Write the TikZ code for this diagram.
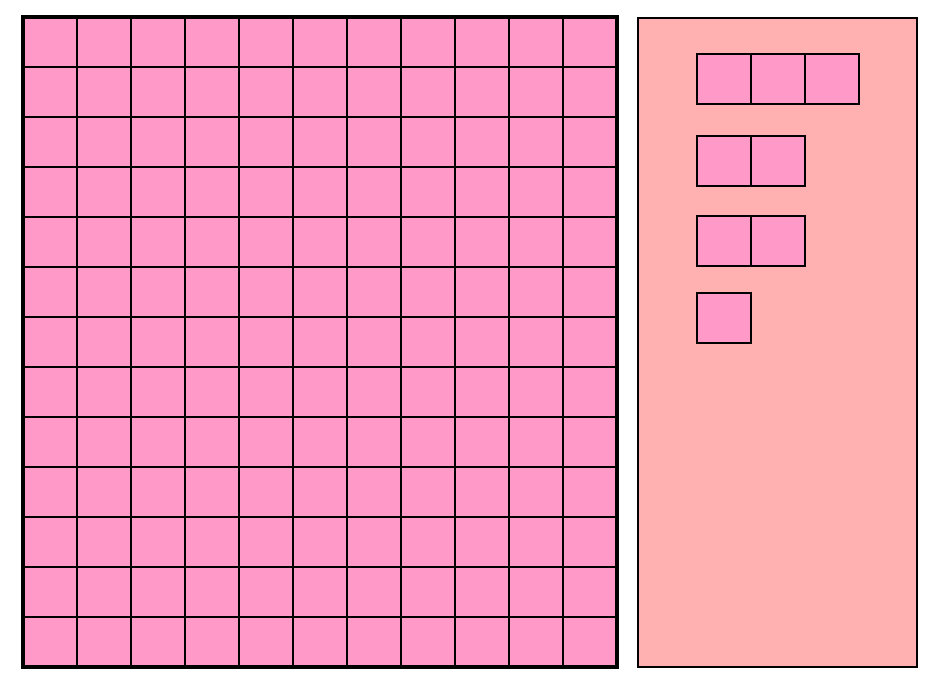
\documentclass[tikz,border=0pt]{standalone}
\usepackage{xcolor}
\usepackage{tikz}
\definecolor{tilepink}{RGB}{255,153,200}
\definecolor{trayred}{RGB}{255,176,176}

\begin{document}
\begin{tikzpicture}[x=1pt,y=-1pt,
    cell/.style={rectangle,draw=black,line width=2.9pt,fill=tilepink,minimum width=54pt,minimum height=50pt,inner sep=0pt,outer sep=0pt},
    tile/.style={rectangle,draw=black,line width=2.9pt,fill=tilepink,minimum width=54pt,minimum height=50pt,inner sep=0pt,outer sep=0pt},
    tray/.style={draw=black,line width=2.4pt,fill=trayred}
  ]
    \useasboundingbox (0,0) rectangle (941,685);
    % hundred grid
    \foreach \r in {0,...,12}
      \foreach \c in {0,...,10}
        \node[cell] (cell-\r-\c) at (50+54*\c,42+50*\r) {};
    \draw[line width=4.5pt] (cell-0-0.north west) rectangle (cell-12-10.south east);
    % tray with leftover tiles
    \draw[tray] (638,18) rectangle (917,667);
    \node[tile] (t1a) at (724,79) {};
    \node[tile] (t1b) at (778,79) {};
    \node[tile] (t1c) at (832,79) {};
    \node[tile] (t2a) at (724,161) {};
    \node[tile] (t2b) at (778,161) {};
    \node[tile] (t3a) at (724,241) {};
    \node[tile] (t3b) at (778,241) {};
    \node[tile] (t4a) at (724,318) {};
  \end{tikzpicture}
\end{document}
